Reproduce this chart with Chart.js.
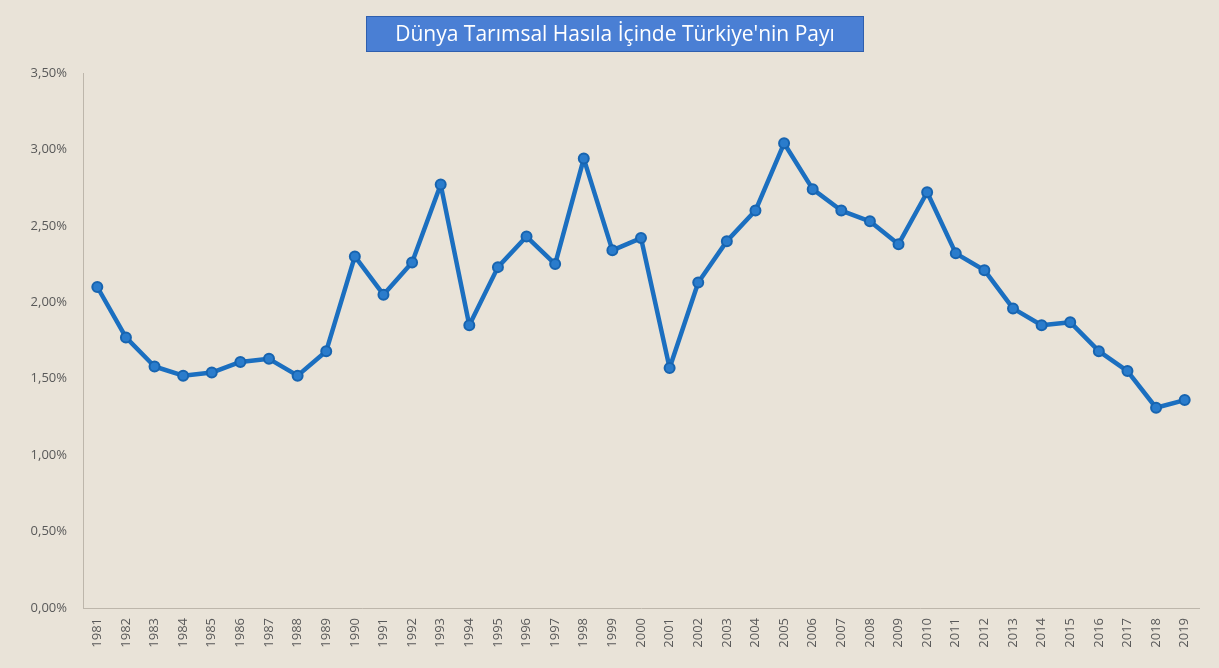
<!DOCTYPE html>
<html>
<head>
<meta charset="utf-8">
<script src="https://cdn.jsdelivr.net/npm/chart.js@4/dist/chart.umd.min.js"></script>
<style>
  html, body { margin: 0; padding: 0; background: #e9e3d8; }
  #wrap { width: 1219px; height: 668px; position: relative; }
</style>
</head>
<body>
<div id="wrap"><canvas id="c" width="1219" height="668"></canvas></div>
<script>
const titleText = "Dünya Tarımsal Hasıla İçinde Türkiye'nin Payı";
const years = ["1981","1982","1983","1984","1985","1986","1987","1988","1989","1990",
  "1991","1992","1993","1994","1995","1996","1997","1998","1999","2000",
  "2001","2002","2003","2004","2005","2006","2007","2008","2009","2010",
  "2011","2012","2013","2014","2015","2016","2017","2018","2019"];
const sharePct = [2.10,1.77,1.58,1.52,1.54,1.61,1.63,1.52,1.68,2.30,
  2.05,2.26,2.77,1.85,2.23,2.43,2.25,2.94,2.34,2.42,
  1.57,2.13,2.40,2.60,3.04,2.74,2.60,2.53,2.38,2.72,
  2.32,2.21,1.96,1.85,1.87,1.68,1.55,1.31,1.36];
const yMin = 0, yMax = 3.5, yStep = 0.5;

const bgPlugin = {
  id: 'bg',
  beforeDraw(chart) {
    const ctx = chart.ctx;
    ctx.save();
    ctx.fillStyle = '#e9e3d8';
    ctx.fillRect(0, 0, chart.width, chart.height);
    ctx.restore();
  },
  afterDraw(chart) {
    const ctx = chart.ctx;
    ctx.save();
    ctx.font = '21px "Open Sans", "Noto Sans", sans-serif';
    const w = 498, h = 36;
    const cx = 615, top = 16;
    ctx.fillStyle = '#4a7fd4';
    ctx.fillRect(cx - w / 2, top, w, h);
    ctx.strokeStyle = '#2f5fae';
    ctx.lineWidth = 1;
    ctx.strokeRect(cx - w / 2 + 0.5, top + 0.5, w - 1, h - 1);
    ctx.fillStyle = '#ffffff';
    ctx.textAlign = 'center';
    ctx.textBaseline = 'middle';
    ctx.fillText(titleText, cx, top + h / 2 + 1);
    ctx.restore();
  }
};

const tickFont = { family: '"Open Sans", "Noto Sans", sans-serif', size: 13 };

new Chart(document.getElementById('c'), {
  type: 'line',
  data: {
    labels: years,
    datasets: [{
      data: sharePct,
      borderColor: '#1b6fc0',
      backgroundColor: '#1b6fc0',
      borderWidth: 4.5,
      borderJoinStyle: 'round',
      borderCapStyle: 'round',
      pointRadius: 5,
      pointBorderWidth: 2,
      pointBorderColor: '#1764b0',
      pointBackgroundColor: '#2a7ccc',
      tension: 0,
      fill: false
    }]
  },
  options: {
    responsive: false,
    animation: false,
    devicePixelRatio: 1,
    layout: { padding: { top: 73, right: 20, left: 0, bottom: 4 } },
    plugins: { legend: { display: false }, title: { display: false }, tooltip: { enabled: false } },
    scales: {
      x: {
        offset: true,
        afterFit: s => { s.height = 56; },
        grid: { display: false, drawTicks: false },
        border: { color: '#bdb6ab', width: 1 },
        ticks: {
          color: '#595959',
          font: tickFont,
          minRotation: 90, maxRotation: 90, autoSkip: false, padding: 10
        }
      },
      y: {
        min: yMin, max: yMax,
        afterFit: s => { s.width = 83; },
        grid: { display: false, drawTicks: false },
        border: { color: '#bdb6ab', width: 1 },
        ticks: {
          stepSize: yStep,
          color: '#595959',
          padding: 16,
          font: tickFont,
          callback: v => v.toFixed(2).replace('.', ',') + '%'
        }
      }
    }
  },
  plugins: [bgPlugin]
});
</script>
</body>
</html>
